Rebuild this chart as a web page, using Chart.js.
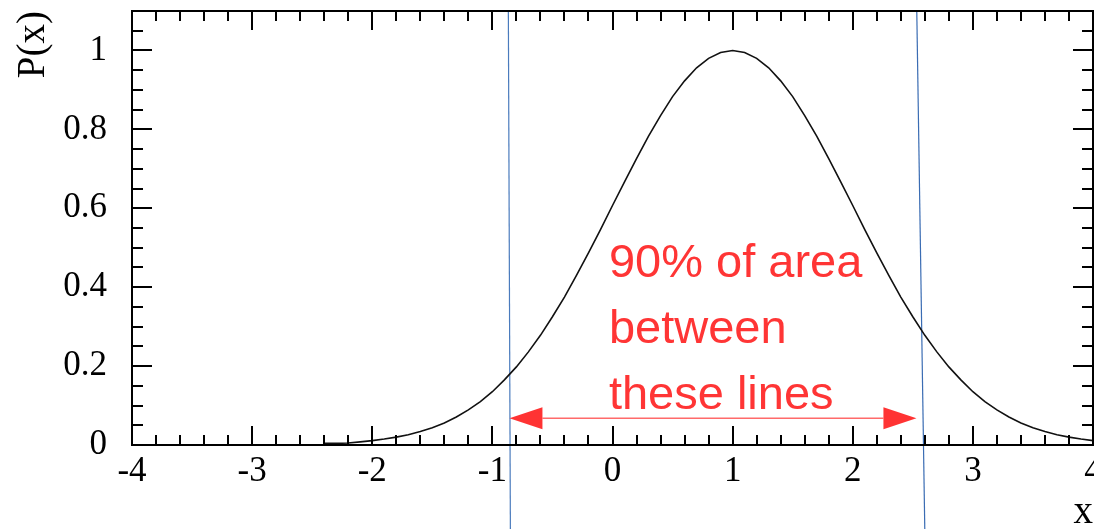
<!DOCTYPE html>
<html><head><meta charset="utf-8">
<script src="https://cdn.jsdelivr.net/npm/chart.js@4/dist/chart.umd.min.js"></script>
<style>html,body{margin:0;padding:0;background:#fff;overflow:hidden}canvas{display:block}</style>
</head><body>
<canvas id="c" width="1094" height="529"></canvas>
<script>
// ---- data ----
const xValues = [-2.4,-2.3,-2.2,-2.1,-2.0,-1.9,-1.8,-1.7,-1.6,-1.5,-1.4,-1.3,-1.2,-1.1,-1.0,-0.9,-0.8,-0.7,-0.6,-0.5,-0.4,-0.3,-0.2,-0.1,
  0.0,0.1,0.2,0.3,0.4,0.5,0.6,0.7,0.8,0.9,1.0,1.1,1.2,1.3,1.4,1.5,1.6,1.7,1.8,1.9,2.0,2.1,2.2,2.3,2.4,2.5,2.6,2.7,2.8,2.9,
  3.0,3.1,3.2,3.3,3.4,3.5,3.6,3.7,3.8,3.9,4.0];
const pValues = [0.004,0.004,0.005,0.008,0.011,0.015,0.020,0.026,0.034,0.044,0.056,0.071,0.089,0.110,0.135,0.165,0.198,0.236,0.278,0.325,0.375,0.430,0.487,0.546,
  0.607,0.667,0.726,0.783,0.835,0.883,0.923,0.956,0.980,0.995,1.000,0.995,0.980,0.956,0.923,0.883,0.835,0.783,0.726,0.667,0.607,0.546,0.487,0.430,0.375,0.325,0.278,0.236,0.198,0.165,
  0.135,0.110,0.089,0.071,0.056,0.044,0.034,0.026,0.020,0.015,0.011];
const xTicks = [-4,-3,-2,-1,0,1,2,3,4];
const yTicks = [0,0.2,0.4,0.6,0.8,1];
const lowerBoundX = [-0.867, -0.85];   // top, bottom end of left line
const upperBoundX = [2.533, 2.6];      // top, bottom end of right line
const boundY = [1.1, -0.22];
const arrowSpan = [-0.858, 2.53];
const noteLines = ['90% of area', 'between', 'these lines'];

const serif = "'Liberation Serif','Times New Roman',serif";

const decor = {
  id: 'decor',
  afterDatasetsDraw(chart) {
    const ctx = chart.ctx, a = chart.chartArea;
    const xs = chart.scales.x, ys = chart.scales.y;
    ctx.save();
    ctx.strokeStyle = '#000';
    ctx.lineWidth = 2;
    ctx.strokeRect(a.left, a.top, a.right - a.left, a.bottom - a.top);
    ctx.beginPath();
    for (let i = 1; i < 40; i++) {
      const v = -4 + i * 0.2;
      const major = i % 5 === 0;
      const L = major ? 19 : 10;
      const px = Math.round(xs.getPixelForValue(v));
      ctx.moveTo(px, a.bottom); ctx.lineTo(px, a.bottom - L);
      ctx.moveTo(px, a.top); ctx.lineTo(px, a.top + L);
    }
    for (let i = 1; i < 22; i++) {
      const v = i * 0.05;
      const major = i % 4 === 0;
      const L = major ? 20 : 11;
      const py = Math.round(ys.getPixelForValue(v));
      ctx.moveTo(a.left, py); ctx.lineTo(a.left + L, py);
      ctx.moveTo(a.right, py); ctx.lineTo(a.right - L, py);
    }
    ctx.stroke();

    const ay = ys.getPixelForValue(0.068);
    const x1 = xs.getPixelForValue(arrowSpan[0]);
    const x2 = xs.getPixelForValue(arrowSpan[1]);
    const hl = 33, hh = 11;
    ctx.strokeStyle = '#ff6a6a';
    ctx.lineWidth = 1.5;
    ctx.beginPath(); ctx.moveTo(x1 + hl, ay); ctx.lineTo(x2 - hl, ay); ctx.stroke();
    ctx.fillStyle = '#ff3333';
    ctx.beginPath(); ctx.moveTo(x1, ay); ctx.lineTo(x1 + hl, ay - hh); ctx.lineTo(x1 + hl, ay + hh); ctx.closePath(); ctx.fill();
    ctx.beginPath(); ctx.moveTo(x2, ay); ctx.lineTo(x2 - hl, ay - hh); ctx.lineTo(x2 - hl, ay + hh); ctx.closePath(); ctx.fill();

    ctx.fillStyle = '#ff3535';
    ctx.font = "47px 'Liberation Sans', Arial, sans-serif";
    ctx.textAlign = 'left';
    ctx.textBaseline = 'alphabetic';
    const tx = xs.getPixelForValue(-0.03);
    const ty = ys.getPixelForValue(0.426);
    noteLines.forEach((t, i) => ctx.fillText(t, tx, ty + i * 66));
    ctx.restore();
  }
};

new Chart(document.getElementById('c'), {
  type: 'line',
  data: {
    datasets: [
      { data: xValues.map((x, i) => ({ x, y: pValues[i] })), borderColor: '#111', borderWidth: 1.6, pointRadius: 0, tension: 0, fill: false },
      { data: [{ x: lowerBoundX[0], y: boundY[0] }, { x: lowerBoundX[1], y: boundY[1] }], borderColor: '#4a7bbd', borderWidth: 1.2, pointRadius: 0, clip: false },
      { data: [{ x: upperBoundX[0], y: boundY[0] }, { x: upperBoundX[1], y: boundY[1] }], borderColor: '#3a6cb3', borderWidth: 1.2, pointRadius: 0, clip: false }
    ]
  },
  options: {
    responsive: false,
    animation: false,
    devicePixelRatio: 1,
    layout: { padding: { top: 11, right: 1, left: 0, bottom: 0 } },
    plugins: { legend: { display: false }, tooltip: { enabled: false } },
    scales: {
      x: {
        type: 'linear', min: -4, max: 4,
        afterBuildTicks: s => { s.ticks = xTicks.map(v => ({ value: v })); },
        afterFit: s => { s.height = 84; s.paddingLeft = 0; s.paddingRight = 0; },
        grid: { display: false, drawTicks: false },
        border: { display: false },
        ticks: { font: { family: serif, size: 35 }, color: '#000', padding: 6, maxRotation: 0, autoSkip: false, callback: v => String(v) },
        title: { display: true, text: 'x', align: 'end', color: '#000', font: { family: serif, size: 39, lineHeight: 0.8 }, padding: { top: 0, bottom: 1 } }
      },
      y: {
        type: 'linear', min: 0, max: 1.1,
        afterBuildTicks: s => { s.ticks = yTicks.map(v => ({ value: v })); },
        afterFit: s => { s.width = 132; s.paddingTop = 0; s.paddingBottom = 0; },
        grid: { display: false, drawTicks: false },
        border: { display: false },
        ticks: { font: { family: serif, size: 35 }, color: '#000', padding: 25, autoSkip: false, callback: v => String(v) },
        title: { display: true, text: 'P(x)', align: 'end', color: '#000', font: { family: serif, size: 39, lineHeight: 1 }, padding: { top: 14, bottom: 0 } }
      }
    }
  },
  plugins: [decor]
});
</script>
</body></html>
